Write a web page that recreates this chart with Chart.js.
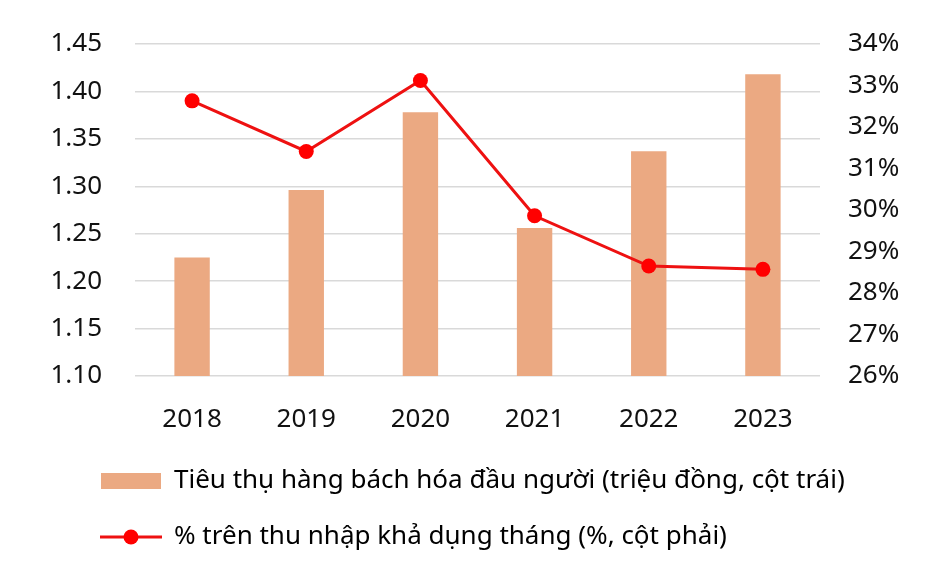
<!DOCTYPE html>
<html>
<head>
<meta charset="utf-8">
<script src="https://cdn.jsdelivr.net/npm/chart.js@4"></script>
<style>
  html, body { margin: 0; padding: 0; background: #fff; }
  #wrap { width: 937px; height: 570px; }
</style>
</head>
<body>
<div id="wrap"><canvas id="bieuDo"></canvas></div>
<script>
const years = ['2018', '2019', '2020', '2021', '2022', '2023'];
const tieuThu = [1.225, 1.296, 1.378, 1.256, 1.337, 1.418];
const tyLe = [32.63, 31.41, 33.12, 29.86, 28.65, 28.57];
const barLabel = 'Tiêu thụ hàng bách hóa đầu người (triệu đồng, cột trái)';
const lineLabel = '% trên thu nhập khả dụng tháng (%, cột phải)';

const barColor = '#EBA982';
const lineColor = '#EE1111';
const dotColor = '#FF0000';

Chart.defaults.font.family = '"Noto Sans", sans-serif';
Chart.defaults.font.size = 26;
Chart.defaults.color = '#111';

// small image used as legend mark for the line series
const mark = document.createElement('canvas');
mark.width = 62; mark.height = 18;
const m = mark.getContext('2d');
m.strokeStyle = lineColor; m.lineWidth = 3;
m.beginPath(); m.moveTo(0, 9); m.lineTo(62, 9); m.stroke();
m.fillStyle = dotColor;
m.beginPath(); m.arc(31, 9, 7.5, 0, Math.PI * 2); m.fill();

// legend sits further right than the y axis box
const dichLegend = {
  id: 'dichLegend',
  afterLayout(chart) { chart.legend.left = 71; }
};

const ctx = document.getElementById('bieuDo');
const bieuDo = new Chart(ctx, {
  type: 'bar',
  data: {
    labels: years,
    datasets: [{
      type: 'line',
      label: lineLabel,
      data: tyLe,
      yAxisID: 'yPhai',
      borderColor: lineColor,
      borderWidth: 3,
      pointRadius: 7.5,
      pointBackgroundColor: dotColor,
      pointBorderWidth: 0,
      tension: 0,
      order: 0
    }, {
      label: barLabel,
      data: tieuThu,
      yAxisID: 'yTrai',
      backgroundColor: barColor,
      barPercentage: 0.31,
      categoryPercentage: 1,
      order: 1
    }]
  },
  options: {
    responsive: true,
    maintainAspectRatio: false,
    animation: false,
    layout: { padding: { top: 44, left: 20, right: 10, bottom: 10 } },
    scales: {
      x: {
        grid: { display: false },
        border: { display: false },
        ticks: { padding: 20 },
        afterFit: s => { s.height = 62; s.paddingLeft = 0; s.paddingRight = 0; }
      },
      yTrai: {
        position: 'left',
        min: 1.10,
        max: 1.45,
        border: { display: false },
        grid: { color: '#d9d9d9', lineWidth: 1.5, drawTicks: false },
        ticks: { stepSize: 0.05, padding: 33, callback: v => v.toFixed(2) },
        afterFit: s => { s.width = 115; s.paddingTop = 0; s.paddingBottom = 0; }
      },
      yPhai: {
        position: 'right',
        min: 26,
        max: 34,
        border: { display: false },
        grid: { display: false, drawTicks: false },
        ticks: { stepSize: 1, padding: 28, callback: v => v + '%' },
        afterFit: s => { s.width = 107; s.paddingTop = 0; s.paddingBottom = 0; }
      }
    },
    plugins: {
      tooltip: { enabled: false },
      legend: {
        position: 'bottom',
        align: 'start',
        labels: {
          usePointStyle: true,
          pointStyleWidth: 60,
          boxHeight: 16,
          padding: 30,
          generateLabels: () => [
            { text: barLabel, pointStyle: 'rect', fillStyle: barColor, strokeStyle: barColor, lineWidth: 0, datasetIndex: 1 },
            { text: lineLabel, pointStyle: mark, fillStyle: dotColor, strokeStyle: lineColor, lineWidth: 0, datasetIndex: 0 }
          ]
        }
      }
    }
  },
  plugins: [dichLegend]
});
</script>
</body>
</html>
